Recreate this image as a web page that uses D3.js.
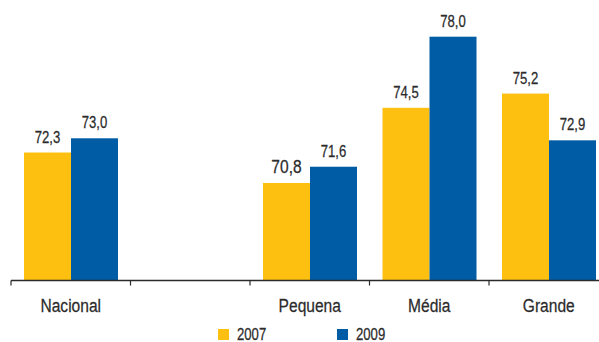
<!DOCTYPE html>
<html>
<head>
<meta charset="utf-8">
<script src="https://cdn.jsdelivr.net/npm/d3@7"></script>
<style>
  body { margin: 0; background: #fff; }
  text { font-family: "Liberation Sans", Arial, sans-serif; fill: #2b2b2b; stroke: #2b2b2b; stroke-width: 0.25px; }
</style>
</head>
<body>
<svg id="chart"></svg>
<script>
// categories (the second slot is left empty in the original)
const categories = ["Nacional", "", "Pequena", "Média", "Grande"];
const series = ["2007", "2009"];
const values2007 = [72.3, null, 70.8, 74.5, 75.2];
const values2009 = [73.0, null, 71.6, 78.0, 72.9];
const colors = ["#fdc010", "#005ca4"];

const width = 599, height = 342;
const NARROW = 0.82; // squeeze text horizontally to mimic a condensed face

const svg = d3.select("#chart").attr("width", width).attr("height", height);

// band scale runs past the right edge, the source image is cropped there
const xScale = d3.scaleBand()
    .domain(d3.range(categories.length))
    .range([11, 608.5])
    .paddingInner(0)
    .paddingOuter(0);

const xInner = d3.scaleBand()
    .domain(series)
    .range([13, xScale.bandwidth() - 12.5]);

const yScale = d3.scaleLinear()
    .domain([66, 78])
    .range([280.5, 36.7]);

const fmt = v => d3.format(".1f")(v).replace(".", ",");
const place = (x, y) => `translate(${x},${y}) scale(${NARROW},1)`;

const rows = [];
categories.forEach((c, i) => {
    [values2007[i], values2009[i]].forEach((v, j) => {
        if (v != null) rows.push({cat: i, series: series[j], value: v, color: colors[j]});
    });
});

const chart = svg.append("g");

chart.selectAll(".bar")
    .data(rows)
    .join("rect")
    .attr("class", "bar")
    .attr("x", d => xScale(d.cat) + xInner(d.series))
    .attr("width", xInner.bandwidth())
    .attr("y", d => yScale(d.value))
    .attr("height", d => yScale.range()[0] - yScale(d.value))
    .attr("fill", d => d.color);

chart.selectAll(".value")
    .data(rows)
    .join("text")
    .attr("class", "value")
    .attr("transform", d => place(xScale(d.cat) + xInner(d.series) + xInner.bandwidth() / 2, yScale(d.value) - 10))
    .attr("text-anchor", "middle")
    // the Pequena 2007 label is set a bit larger in the source
    .style("font-size", d => (d.cat === 2 && d.series === "2007") ? "19px" : "16px")
    .text(d => fmt(d.value));

// x axis
const xAxisG = svg.append("g")
    .attr("transform", "translate(0,280.5)");

xAxisG.append("line")
    .attr("x1", 11).attr("x2", xScale.range()[1])
    .attr("stroke", "#2b2b2b").attr("stroke-width", 1.5);

xAxisG.selectAll(".tick")
    .data(d3.range(categories.length + 1))
    .join("line")
    .attr("class", "tick")
    .attr("x1", i => i < categories.length ? xScale(i) : xScale.range()[1])
    .attr("x2", i => i < categories.length ? xScale(i) : xScale.range()[1])
    .attr("y1", 0).attr("y2", 5)
    .attr("stroke", "#2b2b2b").attr("stroke-width", 1.2);

xAxisG.selectAll(".cat")
    .data(categories)
    .join("text")
    .attr("class", "cat")
    .attr("transform", (d, i) => place(xScale(i) + xScale.bandwidth() / 2, 31))
    .attr("text-anchor", "middle")
    .style("font-size", "19px")
    .text(d => d);

// legend (sits at the very bottom edge, as in the source)
const legend = svg.append("g");
const legendX = [218, 337];
series.forEach((s, i) => {
    legend.append("rect")
        .attr("x", legendX[i]).attr("y", 329)
        .attr("width", 11).attr("height", 11)
        .attr("fill", colors[i]);
    legend.append("text")
        .attr("transform", place(legendX[i] + 19, 339.5))
        .style("font-size", "16px")
        .text(s);
});
</script>
</body>
</html>
